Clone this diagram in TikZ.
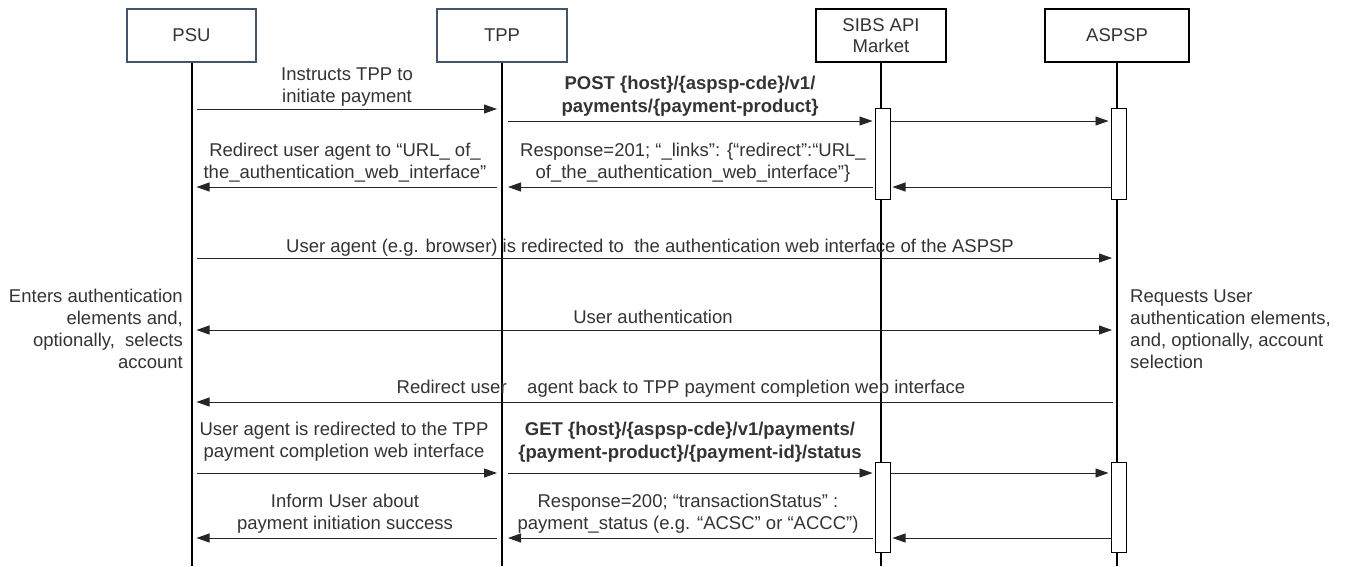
\documentclass[tikz,border=0pt]{standalone}
\usepackage{fontspec}
\setmainfont{Liberation Sans}
\usetikzlibrary{arrows.meta}
\definecolor{boxblue}{HTML}{44546A}
\definecolor{txt}{HTML}{333333}
\tikzset{
  head/.style={draw, line width=1.6pt, fill=white, minimum height=53pt, text=txt, align=center, inner sep=0pt, font=\fontsize{18.5}{21}\selectfont},
  life/.style={line width=2pt, black},
  act/.style={draw, line width=1pt, fill=white, minimum width=15pt, inner sep=0pt},
  msg/.style={line width=0.9pt, black!85, -{Triangle[length=13pt,width=9pt]}},
  lbl/.style={text=txt, align=center, inner sep=0pt, font=\fontsize{18.5}{22}\selectfont},
  blbl/.style={lbl, font=\fontsize{18.5}{22.5}\selectfont\bfseries},
}
\begin{document}
\begin{tikzpicture}[x=1pt,y=-1pt]
\useasboundingbox (0,0) rectangle (1346,566);
% headers
\node[head, draw=boxblue, minimum width=129pt] (psu) at (191.5,35.5) {PSU};
\node[head, draw=boxblue, minimum width=130pt] (tpp) at (502,35.5) {TPP};
\node[head, minimum width=130pt] (sibs) at (881,35.5) {SIBS API\\Market};
\node[head, minimum width=144pt] (aspsp) at (1117,35.5) {ASPSP};
% lifeline ends
\coordinate (bot) at (0,566);
\draw[life] (psu.south) -- (psu.south |- bot);
\draw[life] (tpp.south) -- (tpp.south |- bot);
\draw[life] (sibs.south) -- (sibs.south |- bot);
\draw[life] (aspsp.south) -- (aspsp.south |- bot);
% activation boxes
\node[act, minimum height=91pt] (sa1) at (882.5,153.5) {};
\node[act, minimum height=91pt] (aa1) at (1118.5,153.5) {};
\node[act, minimum height=90pt] (sa2) at (882.5,507) {};
\node[act, minimum height=90pt] (aa2) at (1118.5,507) {};
% message rows
\coordinate (m1) at (0,109);
\coordinate (m2) at (0,121);
\coordinate (m3) at (0,187);
\coordinate (m4) at (0,258);
\coordinate (m5) at (0,330);
\coordinate (m6) at (0,402);
\coordinate (m7) at (0,473);
\coordinate (m8) at (0,538);
% messages
\draw[msg, shorten <=5pt, shorten >=5pt] (psu |- m1) -- (tpp |- m1);
\draw[msg, shorten <=6pt, shorten >=2pt] (tpp |- m2) -- (sa1.west |- m2);
\draw[msg, shorten >=2pt] (sa1.east |- m2) -- (aa1.west |- m2);
\draw[msg, shorten >=2pt] (aa1.west |- m3) -- (sa1.east |- m3);
\draw[msg, shorten <=2pt, shorten >=6pt] (sa1.west |- m3) -- (tpp |- m3);
\draw[msg, shorten <=5pt, shorten >=5pt] (tpp |- m3) -- (psu |- m3);
\draw[msg, shorten <=5pt, shorten >=5pt] (psu |- m4) -- (aspsp |- m4);
\draw[msg, {Triangle[length=13pt,width=9pt]}-{Triangle[length=13pt,width=9pt]}, shorten <=5pt, shorten >=5pt] (psu |- m5) -- (aspsp |- m5);
\draw[msg, shorten <=4pt, shorten >=5pt] (aspsp |- m6) -- (psu |- m6);
\draw[msg, shorten <=5pt, shorten >=5pt] (psu |- m7) -- (tpp |- m7);
\draw[msg, shorten <=6pt, shorten >=2pt] (tpp |- m7) -- (sa2.west |- m7);
\draw[msg, shorten >=2pt] (sa2.east |- m7) -- (aa2.west |- m7);
\draw[msg, shorten >=2pt] (aa2.west |- m8) -- (sa2.east |- m8);
\draw[msg, shorten <=2pt, shorten >=6pt] (sa2.west |- m8) -- (tpp |- m8);
\draw[msg, shorten <=5pt, shorten >=5pt] (tpp |- m8) -- (psu |- m8);
% labels
\node[lbl] (l1) at (347,87) {Instructs TPP to\\initiate payment};
\node[blbl] (l2) at (690,96) {POST \{host\}/\{aspsp-cde\}/v1/\\payments/\{payment-product\}};
\node[lbl] (l3) at (345,162.5) {Redirect user agent to “URL\_ of\_\\the\_authentication\_web\_interface”};
\node[lbl] (l4) at (693,162.5) {Response=201; “\_links”: \{“redirect”:“URL\_\\of\_the\_authentication\_web\_interface”\}};
\node[lbl] (l5) at (650,248) {User agent (e.g. browser) is redirected to~ the authentication web interface of the ASPSP};
\node[lbl] (l6) at (653,317) {User authentication};
\node[lbl] (l7) at (681,389) {Redirect user~~~~agent back to TPP payment completion web interface};
\node[lbl] (l8) at (344,442) {User agent is redirected to the TPP\\payment completion web interface};
\node[blbl] (l9) at (690,442) {GET \{host\}/\{aspsp-cde\}/v1/payments/\\\{payment-product\}/\{payment-id\}/status};
\node[lbl] (l10) at (345,514) {Inform User about\\payment initiation success};
\node[lbl] (l11) at (688,514) {Response=200; “transactionStatus” :\\payment\_status (e.g. “ACSC” or “ACCC”)};
\node[lbl, align=right, anchor=east] (n1) at (183,329) {Enters authentication\\elements and,\\optionally,~ selects\\account};
\node[lbl, align=left, anchor=west] (n2) at (1130,329) {Requests User\\authentication elements,\\and, optionally, account\\selection};
\end{tikzpicture}
\end{document}
